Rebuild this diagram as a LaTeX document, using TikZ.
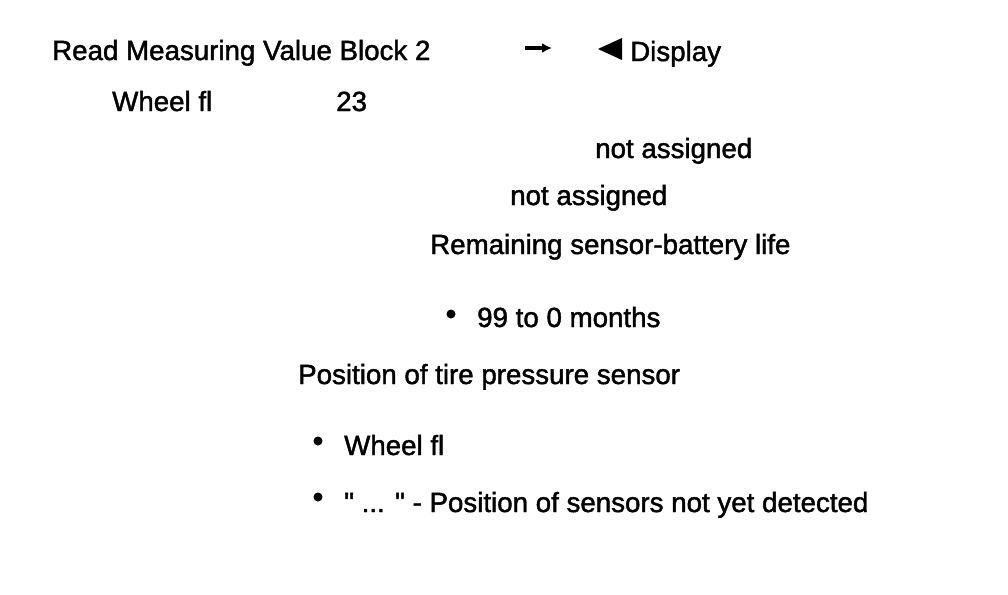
\documentclass[tikz,border=0pt]{standalone}
\usepackage{fontspec}
\setmainfont{Liberation Sans}[FakeBold=1.6]
\usetikzlibrary{arrows.meta}
\begin{document}
\begin{tikzpicture}[x=1pt,y=-1pt,
    txt/.style={anchor=base west,inner sep=0pt,font=\fontsize{27.7}{32}\selectfont}]
    \useasboundingbox (0,0) rectangle (1008,594);
    % Kopfzeile
    \node[txt] (title) at (52,60) {Read Measuring Value Block 2};
    \coordinate (A1) at (525,48);
    \coordinate (A2) at (552,48);
    \draw[-{Latex[length=10pt,width=10pt]},line width=3.5pt] (A1) -- (A2);
    \fill (598,49) -- (622,38) -- (622,60) -- cycle;
    \node[txt] (disp) at (630,61) {Display};
    
    % Messwerte
    \node[txt] (wheel) at (112,111) {Wheel fl};
    \node[txt] (val) at (336,111) {23};
    \node[txt] (na1) at (595,158) {not assigned};
    \node[txt] (na2) at (510,205) {not assigned};
    \node[txt] (life) at (430,254) {Remaining sensor-battery life};
    
    % Aufzaehlungen
    \fill (451,314) circle (4.5);
    \node[txt] (months) at (477,327) {99 to 0 months};
    \node[txt] (pos) at (298,384) {Position of tire pressure sensor};
    \fill (318,441) circle (4.5);
    \node[txt] (posfl) at (344,455) {Wheel fl};
    \fill (318,497) circle (4.5);
    \node[txt] (posnd) at (344,512) {\textquotedbl\ ... \textquotedbl\ - Position of sensors not yet detected};
\end{tikzpicture}
\end{document}
